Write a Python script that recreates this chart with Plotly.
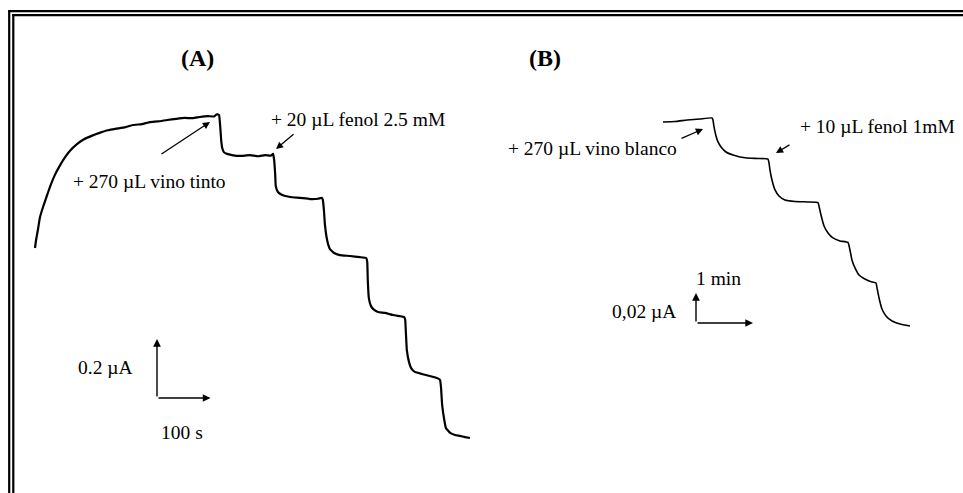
import plotly.graph_objects as go

# ---------------------------------------------------------------------------
# (A) red wine: current response after wine and phenol additions
# time in s, current in µA (relative to the start of the record)
# ---------------------------------------------------------------------------
t_tinto = [0, 2, 6, 9, 15, 22, 28, 37, 47, 56, 65, 79, 90, 107, 122, 136, 150,
           168, 183, 200, 215, 230, 247, 264, 280, 295, 308, 323, 335, 340, 344,
           346, 348, 350, 353, 359, 368, 383, 402, 417, 430, 441, 445,
           447, 449, 450, 454, 462, 477, 495, 514, 529, 536, 538,
           540, 542, 546, 551, 559, 570, 589, 607, 619,
           621, 622, 624, 628, 634, 641, 654, 669, 682, 690, 692,
           693, 695, 699, 703, 710, 723, 738, 751, 757,
           759, 761, 765, 768, 776, 785, 794, 804, 813]
i_tinto = [0.000, 0.027, 0.068, 0.102, 0.139, 0.176, 0.207, 0.247, 0.281, 0.307,
           0.329, 0.353, 0.367, 0.381, 0.391, 0.399, 0.404, 0.409, 0.417, 0.420,
           0.427, 0.429, 0.434, 0.438, 0.441, 0.440, 0.444, 0.447, 0.446, 0.454,
           0.451,
           0.417, 0.366, 0.339, 0.325, 0.319, 0.315, 0.312, 0.315, 0.311, 0.315,
           0.313, 0.319,
           0.298, 0.247, 0.210, 0.190, 0.180, 0.173, 0.170, 0.166, 0.167, 0.170,
           0.163,
           0.129, 0.078, 0.027, -0.003, -0.017, -0.024, -0.027, -0.031, -0.034,
           -0.047, -0.108, -0.170, -0.197, -0.210, -0.217, -0.220, -0.227, -0.231,
           -0.234, -0.244,
           -0.278, -0.346, -0.386, -0.407, -0.420, -0.427, -0.434, -0.441, -0.447,
           -0.475, -0.532, -0.583, -0.610, -0.627, -0.634, -0.637, -0.641, -0.644]

# ---------------------------------------------------------------------------
# (B) white wine: current response after wine and phenol additions
# ---------------------------------------------------------------------------
t_blanco = [0, 12.6, 25.3, 38.9, 51.6, 52.6, 53.7, 55.8, 57.9, 61.1, 66.3, 73.7,
            81.1, 88.4, 100, 110.5, 111.6, 112.6, 114.7, 117.9, 122.1, 128.4,
            138.9, 152.6, 163.2, 164.2, 166.3, 169.5, 173.7, 178.9, 186.3, 194.7,
            196.8, 198.9, 202.1, 206.3, 212.6, 220, 224.2, 225.3, 227.4, 230.5,
            234.7, 241.1, 249.5, 260]
i_blanco = [0.0, 0.0003, 0.0013, 0.0020, 0.0027, 0.0013, -0.0033, -0.0093,
            -0.0133, -0.0167, -0.0200, -0.0220, -0.0233, -0.0240, -0.0243,
            -0.0247, -0.0273, -0.0320, -0.0387, -0.0453, -0.0493, -0.0520,
            -0.0530, -0.0533, -0.0537, -0.0560, -0.0620, -0.0693, -0.0740,
            -0.0773, -0.0793, -0.0803, -0.0853, -0.0920, -0.0973, -0.1020,
            -0.1047, -0.1067, -0.1073, -0.1107, -0.1173, -0.1247, -0.1293,
            -0.1327, -0.1347, -0.1360]

# scale bars
bar_a_t, bar_a_i = 100, 0.2      # 100 s, 0.2 µA
bar_b_t, bar_b_i = 60, 0.02      # 1 min, 0,02 µA

# ---------------------------------------------------------------------------
# Page geometry
# ---------------------------------------------------------------------------
W, H = 963, 493
FONT = "Liberation Serif"
TXT = 19.5

# panel A: pixels per unit and the pixel of the record origin
a_ppx, a_ppy = 0.535, 295.0
a_x0, a_y0 = 35, 248
# panel B
b_ppx, b_ppy = 0.95, 1500.0
b_x0, b_y0 = 663, 122


def px(x):
    return x / W


def py(y):
    return 1 - y / H


fig = go.Figure()
fig.add_trace(go.Scatter(x=t_tinto, y=i_tinto, mode="lines",
                         line=dict(color="black", width=2.2, shape="spline", smoothing=0.3),
                         xaxis="x", yaxis="y", hoverinfo="skip"))
fig.add_trace(go.Scatter(x=t_blanco, y=i_blanco, mode="lines",
                         line=dict(color="black", width=1.6, shape="spline", smoothing=0.4),
                         xaxis="x2", yaxis="y2", hoverinfo="skip"))

hidden = dict(visible=False, showgrid=False, zeroline=False, fixedrange=True)
fig.update_layout(
    width=W, height=H,
    margin=dict(l=0, r=0, t=0, b=0, pad=0),
    paper_bgcolor="white", plot_bgcolor="white",
    showlegend=False,
    xaxis=dict(domain=[0, 1], range=[-a_x0 / a_ppx, (W - a_x0) / a_ppx], **hidden),
    yaxis=dict(domain=[0, 1], range=[(a_y0 - H) / a_ppy, a_y0 / a_ppy], **hidden),
    xaxis2=dict(domain=[0, 1], range=[-b_x0 / b_ppx, (W - b_x0) / b_ppx],
                overlaying="x", anchor="y2", **hidden),
    yaxis2=dict(domain=[0, 1], range=[(b_y0 - H) / b_ppy, b_y0 / b_ppy],
                overlaying="y", anchor="x2", **hidden),
)

# double frame along the left and top edges
shapes = []
for xl, yt in [(9.2, 11.2), (13.3, 15.1)]:
    shapes.append(dict(type="line", xref="paper", yref="paper",
                       x0=px(xl), x1=px(xl), y0=py(yt - 1), y1=0,
                       line=dict(color="black", width=2.2)))
    shapes.append(dict(type="line", xref="paper", yref="paper",
                       x0=px(xl - 1), x1=1, y0=py(yt), y1=py(yt),
                       line=dict(color="black", width=2.2)))
fig.update_layout(shapes=shapes)

ann = []


def label(text, x, y, size=TXT, bold=False):
    ann.append(dict(text=f"<b>{text}</b>" if bold else text,
                    x=px(x), y=py(y), xref="paper", yref="paper",
                    xanchor="center", yanchor="middle", showarrow=False,
                    font=dict(family=FONT, size=size, color="black")))


def pointer(x_tail, y_tail, x_head, y_head):
    ann.append(dict(text="", x=px(x_head), y=py(y_head), xref="paper", yref="paper",
                    ax=x_tail - x_head, ay=y_tail - y_head, axref="pixel", ayref="pixel",
                    showarrow=True, arrowhead=2, arrowsize=1.1, arrowwidth=1.3,
                    arrowcolor="black", standoff=0, startstandoff=0))


def scale_arrow(xr, yr, x0, y0, x1, y1):
    ann.append(dict(text="", x=x1, y=y1, xref=xr, yref=yr,
                    ax=x0, ay=y0, axref=xr, ayref=yr,
                    showarrow=True, arrowhead=2, arrowsize=1.1, arrowwidth=1.4,
                    arrowcolor="black", standoff=0, startstandoff=0))


# panel titles
label("(A)", 197, 58, size=24, bold=True)
label("(B)", 545, 58, size=24, bold=True)

# additions in panel A
label("+ 270 µL vino tinto", 149, 182)
pointer(160, 155, 210, 122)
label("+ 20 µL fenol 2.5 mM", 358, 119)
pointer(295, 133, 276, 149)

# additions in panel B
label("+ 270 µL vino blanco", 592, 148)
pointer(680, 139, 703, 129)
label("+ 10 µL fenol 1mM", 877, 127)
pointer(791, 144, 776, 153)

# scale bar A
sa_t = (157 - a_x0) / a_ppx
sa_i = (a_y0 - 398) / a_ppy
scale_arrow("x", "y", sa_t, sa_i, sa_t, sa_i + bar_a_i)
scale_arrow("x", "y", sa_t, sa_i, sa_t + bar_a_t, sa_i)
label("0.2 µA", 105, 367)
label("100 s", 182, 432)

# scale bar B
sb_t = (696 - b_x0) / b_ppx
sb_i = (b_y0 - 323) / b_ppy
scale_arrow("x2", "y2", sb_t, sb_i, sb_t, sb_i + bar_b_i)
scale_arrow("x2", "y2", sb_t, sb_i, sb_t + bar_b_t, sb_i)
label("1 min", 718, 278)
label("0,02 µA", 644, 311)

fig.update_layout(annotations=ann)
fig.write_html("out.html")
